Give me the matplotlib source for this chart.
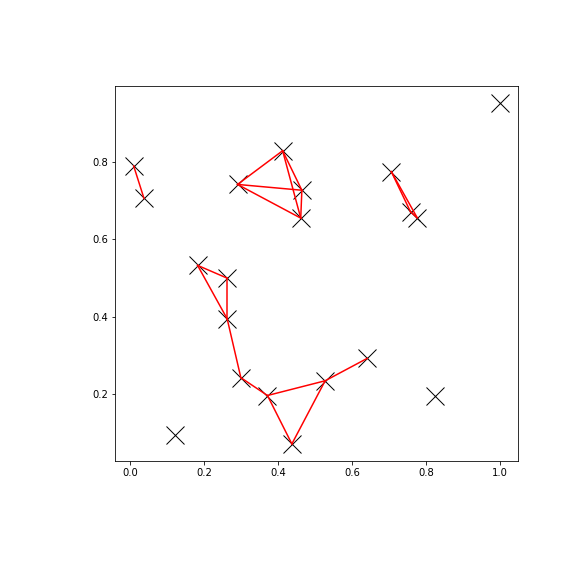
import matplotlib
matplotlib.use("Agg")
import matplotlib.pyplot as plt

# point coordinates
xs = [0.009, 0.037, 0.290, 0.412, 0.464, 0.461, 0.706, 0.758, 0.776, 1.000,
      0.182, 0.262, 0.262, 0.299, 0.371, 0.437, 0.122, 0.527, 0.641, 0.825]
ys = [0.790, 0.706, 0.742, 0.829, 0.727, 0.655, 0.775, 0.671, 0.656, 0.953,
      0.533, 0.500, 0.395, 0.243, 0.197, 0.072, 0.094, 0.235, 0.293, 0.196]

# pairs of point indices joined by a red line
pairs = [(0, 1),
         (2, 3), (2, 4), (2, 5), (3, 4), (3, 5), (4, 5),
         (6, 7), (6, 8), (7, 8),
         (10, 11), (10, 12), (11, 12), (12, 13), (13, 14),
         (14, 15), (14, 17), (15, 17), (17, 18)]

fig = plt.figure(figsize=(8, 8), dpi=72)
ax = fig.add_axes([0.2002, 0.1997, 0.6997, 0.6516])

ax.plot(xs, ys, 'kx', markersize=18)
for i, j in pairs:
    ax.plot([xs[i], xs[j]], [ys[i], ys[j]], '-r', lw=1.5)

fig.savefig('out.png', dpi=72)
